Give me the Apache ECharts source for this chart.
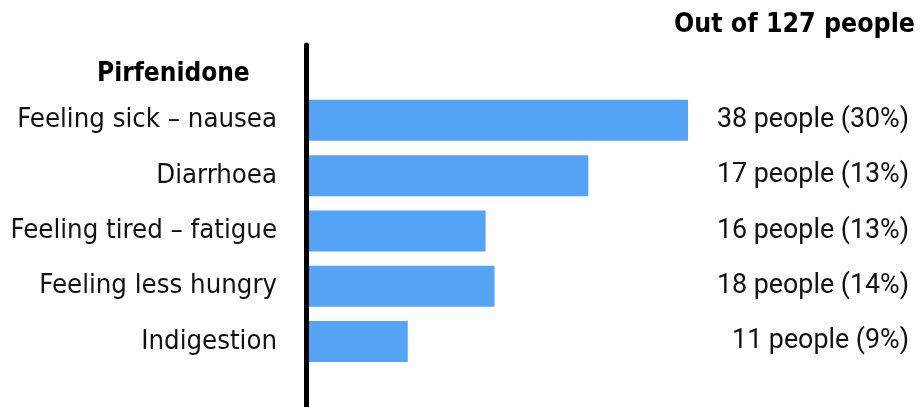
<!DOCTYPE html>
<html>
<head>
<meta charset="utf-8">
<script src="https://cdn.jsdelivr.net/npm/echarts@6/dist/echarts.min.js"></script>
<style>html,body{margin:0;padding:0;background:#fff}#c{width:920px;height:407px}</style>
</head>
<body>
<div id="c"></div>
<script>
const categories = ['Feeling sick – nausea', 'Diarrhoea', 'Feeling tired – fatigue', 'Feeling less hungry', 'Indigestion'];
const barValues = [38, 28, 17.7, 18.6, 9.9];
const peopleCounts = [38, 17, 16, 18, 11];
const percents = [30, 13, 13, 14, 9];
const totalPeople = 127;
const groupName = 'Pirfenidone';

const rightLabels = peopleCounts.map((n, i) => n + ' people (' + percents[i] + '%)');

const chart = echarts.init(document.getElementById('c'));
chart.setOption({
  animation: false,
  title: [
    { text: 'Out of ' + totalPeople + ' people', right: 0, top: 7,
      textStyle: { fontFamily: 'DejaVu Sans Condensed', fontWeight: 'bold', fontSize: 26.5, color: '#000' } },
    { text: groupName, left: 92, top: 56,
      textStyle: { fontFamily: 'DejaVu Sans Condensed', fontWeight: 'bold', fontSize: 26, color: '#000' } }
  ],
  grid: [
    { left: 309, width: 399, top: 92.7, bottom: 37.8 },
    { left: 306.5, width: 10, top: 45, bottom: -2 }
  ],
  xAxis: [
    { type: 'value', gridIndex: 0, min: 0, max: 40, show: false },
    { type: 'value', gridIndex: 1, show: false }
  ],
  yAxis: [
    { type: 'category', gridIndex: 0, inverse: true, data: categories,
      axisLine: { show: false }, axisTick: { show: false },
      axisLabel: { margin: 32, padding: [4, 0, 0, 0], fontFamily: 'DejaVu Sans Condensed', fontSize: 27.3, color: '#111' } },
    { type: 'category', gridIndex: 0, inverse: true, position: 'right', data: rightLabels,
      axisLine: { show: false }, axisTick: { show: false },
      axisLabel: { margin: 201, align: 'right', padding: [4, 0, 0, 0], fontFamily: 'Roboto', fontSize: 26.8, color: '#111' } },
    { type: 'value', gridIndex: 1, axisLine: { show: true, lineStyle: { color: '#000', width: 5 } },
      axisLabel: { show: false }, axisTick: { show: false }, splitLine: { show: false } }
  ],
  series: [
    { type: 'bar', xAxisIndex: 0, yAxisIndex: 0, data: barValues, barWidth: 41,
      itemStyle: { color: '#55a3f5' } }
  ]
});
</script>
</body>
</html>
